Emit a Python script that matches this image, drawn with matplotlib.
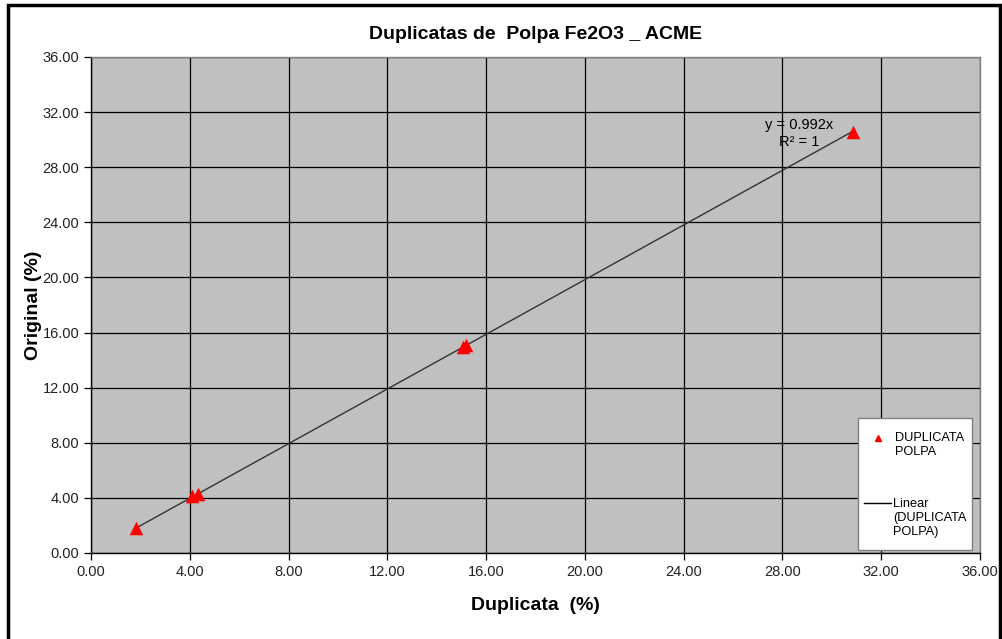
import matplotlib
matplotlib.use('Agg')
import matplotlib.pyplot as plt
from matplotlib.patches import Rectangle

# Duplicata (x) vs Original (y), Fe2O3 %
duplicata = [1.82, 4.10, 4.35, 15.05, 15.20, 30.85]
original = [1.78, 4.12, 4.28, 14.95, 15.08, 30.58]
slope = 0.992
ticks = [0, 4, 8, 12, 16, 20, 24, 28, 32, 36]
legend_labels = ["DUPLICATA\nPOLPA", "Linear\n(DUPLICATA\nPOLPA)"]

plt.rcParams['font.family'] = ['Liberation Sans', 'DejaVu Sans']

fig = plt.figure(figsize=(10.03, 6.39), dpi=100)
fig.patches.append(Rectangle((8 / 1003, -0.01), 992 / 1003, 1 - 5 / 639 + 0.01,
                             transform=fig.transFigure, fill=False,
                             edgecolor='black', linewidth=2.5))

ax = fig.add_axes([91 / 1003, 86 / 639, 889 / 1003, 496 / 639])
ax.set_facecolor('#C0C0C0')
ax.set_xlim(0, 36)
ax.set_ylim(0, 36)
ax.set_xticks(ticks)
ax.set_yticks(ticks)
ax.set_xticklabels([f"{t:.2f}" for t in ticks], fontsize=10.5, color='#222222')
ax.set_yticklabels([f"{t:.2f}" for t in ticks], fontsize=10.5, color='#222222')
ax.grid(True, color='black', linewidth=0.9)
ax.set_axisbelow(True)
ax.tick_params(direction='out', length=5, color='black', width=0.9)
for side in ['top', 'right']:
    ax.spines[side].set_color('#808080')
    ax.spines[side].set_linewidth(1.0)
for side in ['left', 'bottom']:
    ax.spines[side].set_color('black')
    ax.spines[side].set_linewidth(1.0)

x0, x1 = min(duplicata), max(duplicata)
ax.plot([x0, x1], [slope * x0, slope * x1], color='#333333', linewidth=1.0, zorder=3)
ax.scatter(duplicata, original, marker='^', s=95, color='#FF0000', zorder=4,
           linewidths=0)

ax.text(30.05, 31.05, f"y = {slope}x", ha='right', va='center', fontsize=10.5)
ax.text(29.5, 29.85, "R² = 1", ha='right', va='center', fontsize=10.5)

ax.set_title("Duplicatas de  Polpa Fe2O3 _ ACME", fontsize=14, fontweight='bold', pad=13)
ax.set_xlabel("Duplicata  (%)", fontsize=14, fontweight='bold', labelpad=13)
ax.set_ylabel("Original (%)", fontsize=14, fontweight='bold', labelpad=0)

# legend box drawn by hand (Excel-style: handle sits on the first text line)
tr = ax.transAxes
ax.add_patch(Rectangle((0.8628, 0.006), 0.1282, 0.2662, transform=tr,
                       facecolor='white', edgecolor='#808080', linewidth=1.0,
                       zorder=5, clip_on=False))
ax.plot([0.8853], [0.2319], transform=tr, marker='^', color='#FF0000',
        markersize=5, linestyle='none', zorder=6, clip_on=False)
ax.text(0.9044, 0.2440, legend_labels[0], transform=tr, ha='left', va='top',
        fontsize=9.2, linespacing=1.22, zorder=6)
ax.plot([0.8695, 0.8999], [0.1008, 0.1008], transform=tr, color='black',
        linewidth=1.0, zorder=6, clip_on=False)
ax.text(0.9021, 0.1110, legend_labels[1], transform=tr, ha='left', va='top',
        fontsize=9.2, linespacing=1.22, zorder=6)

fig.savefig('out.png', dpi=100)
plt.close(fig)
